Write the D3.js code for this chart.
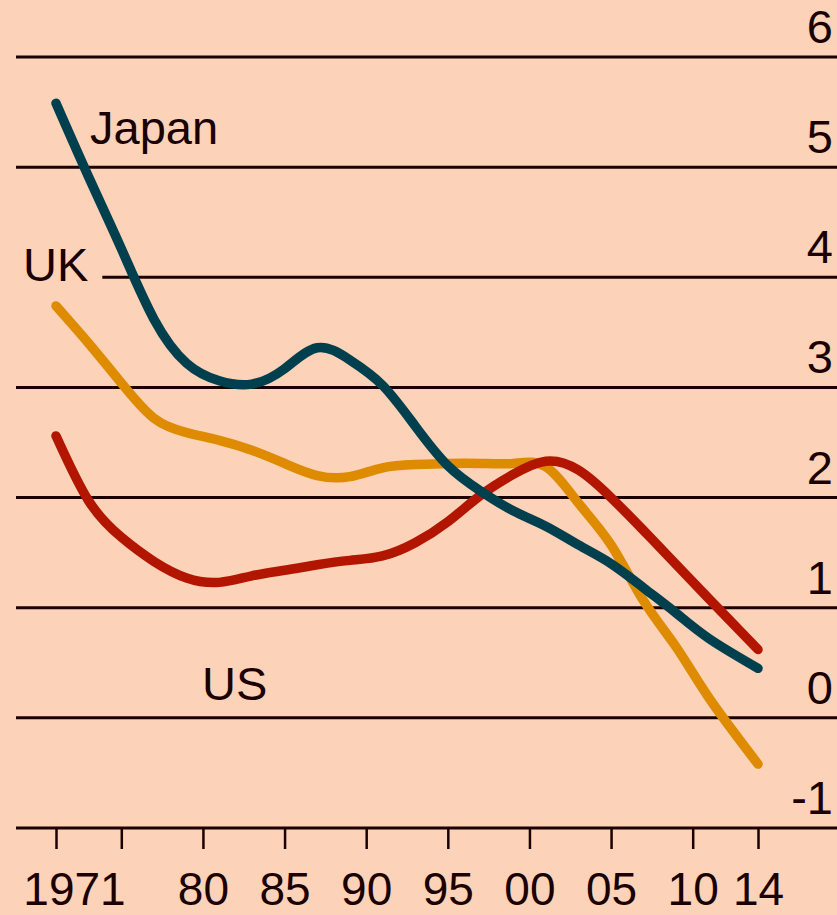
<!DOCTYPE html>
<html>
<head>
<meta charset="utf-8">
<script src="https://cdn.jsdelivr.net/npm/d3@7"></script>
<style>
  body { margin: 0; background: #fcd2b8; }
  svg text { font-family: "Liberation Sans", Arial, sans-serif; fill: #1a0000; }
</style>
</head>
<body>
<div id="chart"></div>
<script>
// Data
const years = [1971, 1973, 1975, 1977, 1979, 1981, 1983, 1985, 1987, 1989, 1991,
               1993, 1995, 1997, 1999, 2001, 2003, 2005, 2007, 2009, 2011, 2014];
const japan = [5.58, 4.91, 4.26, 3.62, 3.22, 3.06, 3.03, 3.17, 3.36, 3.25, 3.02,
               2.65, 2.29, 2.06, 1.88, 1.74, 1.57, 1.40, 1.18, 0.95, 0.72, 0.45];
const uk    = [3.74, 3.40, 3.04, 2.72, 2.59, 2.52, 2.43, 2.31, 2.20, 2.19, 2.27,
               2.30, 2.31, 2.31, 2.31, 2.28, 1.95, 1.57, 1.06, 0.64, 0.18, -0.42];
const us    = [2.56, 1.97, 1.64, 1.42, 1.27, 1.23, 1.29, 1.34, 1.39, 1.43, 1.47,
               1.59, 1.78, 2.02, 2.21, 2.33, 2.25, 2.00, 1.70, 1.39, 1.08, 0.62];

const yTicks = [6, 5, 4, 3, 2, 1, 0];
const xTicks = [1971, 1975, 1980, 1985, 1990, 1995, 2000, 2005, 2010, 2014];
const xTickLabels = ["1971", "", "80", "85", "90", "95", "00", "05", "10", "14"];

const series = [
  { name: "UK", values: uk, color: "#de8b00", label: { x: 23, y: 281 }, knockout: true },
  { name: "US", values: us, color: "#b31600", label: { x: 202, y: 700 } },
  { name: "Japan", values: japan, color: "#003f4e", label: { x: 90, y: 144 } }
];

const width = 837;
const height = 915;
const margin = { left: 16, right: 0 };

const svg = d3.select("#chart")
  .append("svg")
  .attr("width", width)
  .attr("height", height);

svg.append("rect")
  .attr("width", width)
  .attr("height", height)
  .attr("fill", "#fcd2b8");

const x = d3.scaleLinear().domain([1971, 2014]).range([56, 758]);
const y = d3.scaleLinear().domain([-1, 6]).range([828, 57]);

// Gridlines
svg.append("g")
  .selectAll("line")
  .data(yTicks)
  .enter()
  .append("line")
    .attr("x1", margin.left)
    .attr("x2", width)
    .attr("y1", d => y(d))
    .attr("y2", d => y(d))
    .attr("stroke", "#1a0000")
    .attr("stroke-width", 3);

// Y labels on the right
svg.append("g")
  .selectAll("text")
  .data(yTicks.concat([-1]))
  .enter()
  .append("text")
    .attr("x", 833)
    .attr("y", d => y(d) - 14)
    .attr("text-anchor", "end")
    .attr("font-size", 47)
    .text(d => d);

// X axis
const xAxis = svg.append("g")
  .attr("transform", `translate(0, ${y(-1)})`)
  .call(d3.axisBottom(x)
    .tickValues(xTicks)
    .tickSize(21)
    .tickFormat((d, i) => xTickLabels[i]));

xAxis.select(".domain").remove();
xAxis.append("line")
  .attr("x1", margin.left)
  .attr("x2", width)
  .attr("stroke", "#1a0000")
  .attr("stroke-width", 3);
xAxis.selectAll(".tick line")
  .attr("stroke", "#1a0000")
  .attr("stroke-width", 2.5);
xAxis.selectAll(".tick text")
  .attr("font-size", 46)
  .attr("fill", "#1a0000")
  .attr("dy", "0")
  .attr("y", 77);
xAxis.selectAll(".tick text")
  .filter((d, i) => i === 0)
  .attr("dx", 18);

// Label knockouts (UK label sits on a gridline)
const labelLayer = svg.append("g");
const lineLayer = svg.append("g");
const textLayer = svg.append("g");

series.forEach(s => {
  const t = textLayer.append("text")
    .attr("x", s.label.x)
    .attr("y", s.label.y)
    .attr("font-size", 47)
    .text(s.name);
  if (s.knockout) {
    const b = t.node().getBBox();
    labelLayer.append("rect")
      .attr("x", b.x - 10)
      .attr("y", b.y)
      .attr("width", b.width + 24)
      .attr("height", b.height)
      .attr("fill", "#fcd2b8");
  }
});

// Lines
const line = d3.line()
  .curve(d3.curveNatural)
  .x((d, i) => x(years[i]))
  .y(d => y(d));

series.forEach(s => {
  lineLayer.append("path")
    .datum(s.values)
    .attr("fill", "none")
    .attr("stroke", s.color)
    .attr("stroke-width", 9.5)
    .attr("stroke-linecap", "round")
    .attr("d", line);
});
</script>
</body>
</html>
